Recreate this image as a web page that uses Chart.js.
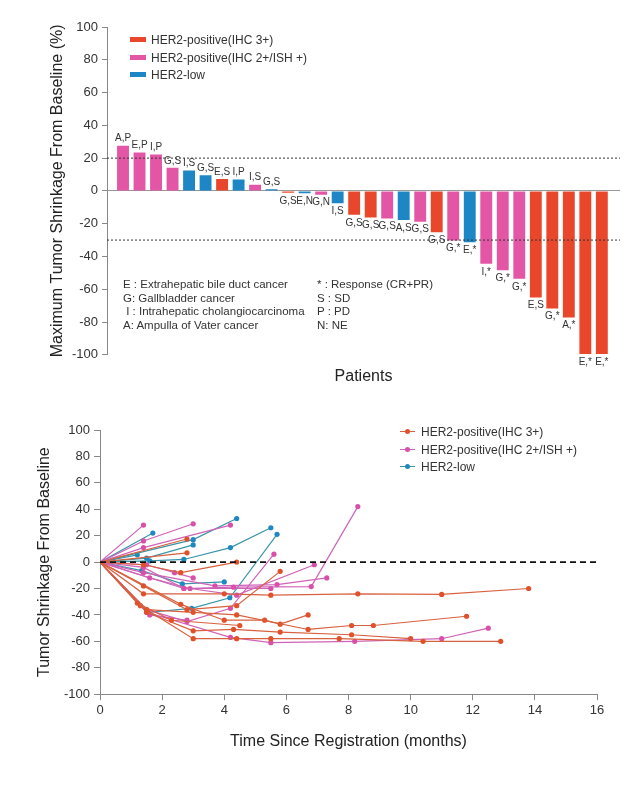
<!DOCTYPE html>
<html><head><meta charset="utf-8">
<script src="https://cdn.jsdelivr.net/npm/chart.js@4.4.1/dist/chart.umd.min.js"></script>
<style>
html,body{margin:0;padding:0;background:#fff;}
body{width:625px;height:800px;position:relative;overflow:hidden;font-family:"Liberation Sans",Arial,Helvetica,sans-serif;}
#c1{position:absolute;left:0;top:0;}
#c2{position:absolute;left:0;top:400px;}
.leg{position:absolute;font-size:12px;color:#333;white-space:nowrap;}
.leg div{height:17.5px;line-height:17.5px;}
.sw{display:inline-block;width:16px;height:5px;margin-right:5px;vertical-align:middle;position:relative;top:-1px;}
.ln{display:inline-block;width:15px;height:1.3px;margin-right:6px;vertical-align:middle;position:relative;top:-1px;}
.ln i{position:absolute;left:5px;top:-2px;width:5px;height:5px;border-radius:50%;}
.note{position:absolute;font-size:11.5px;color:#333;line-height:13.6px;white-space:nowrap;}
</style></head>
<body>
<canvas id="c1" width="625" height="400"></canvas>
<canvas id="c2" width="625" height="400"></canvas>

<div class="leg" style="left:130px;top:32px">
  <div><span class="sw" style="background:#e8472b"></span>HER2-positive(IHC 3+)</div>
  <div><span class="sw" style="background:#e356a6"></span>HER2-positive(IHC 2+/ISH +)</div>
  <div><span class="sw" style="background:#1f86c5"></span>HER2-low</div>
</div>

<div class="note" style="left:123px;top:278px">
  <div>E : Extrahepatic bile duct cancer</div>
  <div>G: Gallbladder cancer</div>
  <div>&nbsp;I : Intrahepatic cholangiocarcinoma</div>
  <div>A: Ampulla of Vater cancer</div>
</div>
<div class="note" style="left:317px;top:278px">
  <div>* : Response (CR+PR)</div>
  <div>S : SD</div>
  <div>P : PD</div>
  <div>N: NE</div>
</div>

<div class="leg" style="left:400px;top:424px">
  <div><span class="ln" style="background:#d8613f"><i style="background:#e0502a"></i></span>HER2-positive(IHC 3+)</div>
  <div><span class="ln" style="background:#cf63b8"><i style="background:#d850a8"></i></span>HER2-positive(IHC 2+/ISH +)</div>
  <div><span class="ln" style="background:#3a95a8"><i style="background:#1f88c0"></i></span>HER2-low</div>
</div>

<script>
// ---------- Waterfall data ----------
const patientLabels = ["A,P","E,P","I,P","G,S","I,S","G,S","E,S","I,P","I,S","G,S","G,S","E,N","G,N","I,S","G,S","G,S","G,S","A,S","G,S","G,S","G,*","E,*","I,*","G,*","G,*","E,S","G,*","A,*","E,*","E,*"];
const maxShrinkage = [27.6,23.4,22.2,14.1,12.5,9.5,7.3,7.0,3.8,1.0,-1.2,-1.5,-2.3,-7.6,-14.6,-16.2,-16.8,-17.8,-18.8,-25.3,-30.3,-31.3,-44.5,-48.4,-53.6,-65.1,-71.8,-77.3,-99.5,-99.5];
const her2Group = ["ihc2","ihc2","ihc2","ihc2","low","low","ihc3","low","ihc2","low","ihc3","low","ihc2","low","ihc3","ihc3","ihc2","low","ihc2","ihc3","ihc2","low","ihc2","ihc2","ihc2","ihc3","ihc3","ihc3","ihc3","ihc3"];
const referenceLines = [20, -30];

// ---------- Spider plot data: [month, % change] ----------
const ihc3Series = [
  [[0,0],[2.8,17.5]],
  [[0,0],[2.8,7]],
  [[0,0],[1.4,-2],[2.6,-8],[4.4,0]],
  [[0,0],[1.4,-24],[4.0,-24],[5.5,-25],[8.3,-24],[11.0,-24.5],[13.8,-20]],
  [[0,0],[1.4,-18],[2.8,-36],[4.4,-33],[5.8,-7]],
  [[0,0],[1.2,-31],[2.3,-44],[4.5,-48]],
  [[0,0],[1.5,-36],[3.0,-38],[4.4,-40],[6.7,-51],[8.1,-48],[8.8,-48],[11.8,-41]],
  [[0,0],[1.5,-38],[3.0,-52],[4.3,-51],[5.8,-53],[8.1,-55],[10.0,-58]],
  [[0,0],[1.3,-33],[3.0,-58],[4.4,-58],[5.5,-58],[7.7,-58],[10.4,-60],[12.9,-60]],
  [[0,0],[2.6,-32],[4.0,-44],[5.3,-44],[5.8,-47],[6.7,-40]]
];
const ihc2Series = [
  [[0,0],[1.4,28]],
  [[0,0],[1.4,16],[3.0,29]],
  [[0,0],[1.4,11],[4.2,28]],
  [[0,0],[1.5,-36],[2.8,-45],[4.2,-35],[5.6,6]],
  [[0,0],[1.4,-4],[2.7,-20],[4.3,-19],[6.8,-18.5],[8.3,42]],
  [[0,0],[1.6,-12],[2.9,-20],[4.4,-25],[6.9,-2]],
  [[0,0],[1.4,-8],[3.7,-18],[5.7,-17],[7.3,-12]],
  [[0,0],[1.5,-38],[4.2,-57],[5.5,-61],[8.2,-60],[11.0,-58],[12.5,-50]],
  [[0,0],[1.6,-40],[2.8,-44]],
  [[0,0],[1.5,-2],[2.4,-8],[3.0,-12]],
  [[0,0],[2.7,-20],[5.5,-20]]
];
const lowSeries = [
  [[0,0],[1.7,22]],
  [[0,0],[3.0,17],[4.4,33]],
  [[0,0],[1.6,1],[2.7,2],[4.2,11],[5.5,26]],
  [[0,0],[1.2,5.5]],
  [[0,0],[1.55,-38],[2.95,-35],[4.18,-27],[5.7,21]],
  [[0,0],[1.34,-6.5],[2.65,-16.5],[4.0,-15]],
  [[0,0],[1.5,3],[3.0,13]]
];

const barColors = {ihc3:"#e8472b", ihc2:"#e356a6", low:"#1f86c5"};
const FONT = '"Liberation Sans", Arial, Helvetica, sans-serif';
Chart.defaults.font.family = FONT;

// ---------- Top: waterfall ----------
const xMin = -0.97, xMax = 30.1;
const barLabelPlugin = {
  id: 'barLabels',
  afterDatasetsDraw(chart) {
    const meta = chart.getDatasetMeta(0);
    const c = chart.ctx;
    c.save();
    c.font = '10px ' + FONT;
    c.fillStyle = '#333';
    c.textAlign = 'center';
    meta.data.forEach((bar, i) => {
      if (maxShrinkage[i] >= 0) { c.textBaseline = 'bottom'; c.fillText(patientLabels[i], bar.x, bar.y - 2); }
      else { c.textBaseline = 'top'; c.fillText(patientLabels[i], bar.x, bar.y + 3); }
    });
    c.restore();
  }
};

new Chart(document.getElementById('c1'), {
  type: 'bar',
  data: {
    datasets: [
      { type: 'bar', order: 2,
        data: maxShrinkage.map((v, i) => ({x: i, y: v})),
        backgroundColor: her2Group.map(g => barColors[g]),
        barPercentage: 0.9, categoryPercentage: 0.8 },
      ...referenceLines.map(v => ({ type: 'line', order: 1,
        data: [{x: xMin, y: v}, {x: xMax, y: v}],
        borderColor: '#333', borderWidth: 1, borderDash: [2, 2], pointRadius: 0 }))
    ]
  },
  options: {
    responsive: false, animation: false,
    layout: {padding: {left: 44, top: 27, right: 5, bottom: 10}},
    plugins: {legend: {display: false}, tooltip: {enabled: false}},
    scales: {
      x: { type: 'linear', min: xMin, max: xMax, offset: false,
        grid: {display: false, drawTicks: false, offset: false}, border: {display: false},
        ticks: {display: false},
        title: {display: true, text: 'Patients', font: {size: 16}, color: '#222', padding: {top: 12, bottom: 4}} },
      y: { min: -100, max: 100,
        ticks: {stepSize: 20, font: {size: 13}, color: '#333', padding: 4},
        grid: {color: c => (c.tick && c.tick.value === 0) ? '#999' : 'rgba(0,0,0,0)', tickColor: '#888', tickLength: 5},
        border: {display: true, color: '#888'},
        title: {display: true, text: 'Maximum Tumor Shrinkage From Baseline (%)', font: {size: 16}, color: '#222'},
        afterFit: s => { s.width = 63; } }
    }
  },
  plugins: [barLabelPlugin]
});

// ---------- Bottom: spider plot ----------
const groupStyle = [
  {series: ihc3Series, line: '#d8613f', dot: '#e0502a'},
  {series: ihc2Series, line: '#cf63b8', dot: '#d850a8'},
  {series: lowSeries,  line: '#3a95a8', dot: '#1f88c0'}
];
const spiderSets = [];
groupStyle.forEach(g => g.series.forEach(s => spiderSets.push({
  data: s.map(p => ({x: p[0], y: p[1]})),
  borderColor: g.line, borderWidth: 1.2, pointRadius: s.map((p, i) => i === 0 ? 0 : 2.6),
  pointBackgroundColor: g.dot, pointBorderWidth: 0, tension: 0, order: 1
})));
spiderSets.push({ data: [{x: 0, y: 0}, {x: 16, y: 0}], borderColor: '#111', borderWidth: 1.6,
  borderDash: [6, 4], pointRadius: 0, order: 0 });

new Chart(document.getElementById('c2'), {
  type: 'line',
  data: {datasets: spiderSets},
  options: {
    responsive: false, animation: false,
    layout: {padding: {left: 31, top: 30, right: 28, bottom: 45}},
    plugins: {legend: {display: false}, tooltip: {enabled: false}},
    scales: {
      x: { type: 'linear', min: 0, max: 16,
        ticks: {stepSize: 2, font: {size: 13}, color: '#333', padding: 2},
        grid: {drawOnChartArea: false, tickLength: 6, tickColor: '#888'},
        border: {color: '#888'},
        title: {display: true, text: 'Time Since Registration (months)', font: {size: 16}, color: '#222', padding: {top: 12, bottom: 4}} },
      y: { min: -100, max: 100,
        ticks: {stepSize: 20, font: {size: 13}, color: '#333', padding: 4},
        grid: {drawOnChartArea: false, tickLength: 6, tickColor: '#888'},
        border: {color: '#888'},
        title: {display: true, text: 'Tumor Shrinkage From Baseline', font: {size: 16}, color: '#222'},
        afterFit: s => { s.width = 69; } }
    }
  }
});
</script>
</body></html>
